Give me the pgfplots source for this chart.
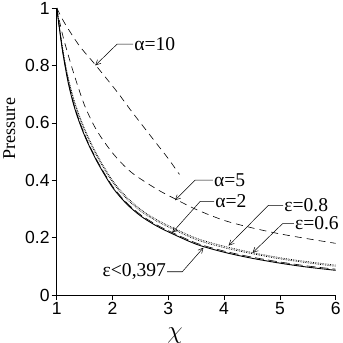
\documentclass[border=0pt]{standalone}
\usepackage{fontspec}
\setmainfont{Liberation Serif}
\setsansfont{Liberation Sans}
\usepackage{pgfplots}
\pgfplotsset{compat=1.18}
\usetikzlibrary{arrows.meta}

\begin{document}
\begin{tikzpicture}
\begin{axis}[
    scale only axis,
    width=278pt,
    height=286pt,
    xmin=1, xmax=6,
    ymin=0, ymax=1,
    axis x line*=bottom,
    axis y line*=left,
    axis line style={line width=0.6pt},
    xtick={1,2,3,4,5,6},
    ytick={0,0.2,0.4,0.6,0.8,1},
    tick align=outside,
    major tick length=5pt,
    tick style={black, line width=0.6pt},
    ticklabel style={font=\fontsize{17.5}{19}\selectfont\sffamily, inner sep=2pt},
    /pgf/number format/assume math mode=true,
    clip=false,
    every axis plot/.append style={black, smooth},
]
% epsilon < 0,397 (solid)
\addplot[line width=0.9pt] coordinates {
    (1.0,1.000) (1.1,0.855) (1.2,0.745) (1.3,0.665) (1.4,0.605) (1.5,0.555)
    (1.6,0.512) (1.75,0.455) (2.0,0.375) (2.25,0.318) (2.5,0.276) (2.75,0.245)
    (3.0,0.220) (3.5,0.177) (4.0,0.149) (4.5,0.128) (5.0,0.111) (5.5,0.097) (6.0,0.086)
};
% alpha = 2
\addplot[line width=0.6pt, dash pattern=on 9pt off 4pt] coordinates {
    (1.0,1.000) (1.1,0.859) (1.2,0.749) (1.3,0.669) (1.4,0.609) (1.5,0.559)
    (1.6,0.516) (1.75,0.459) (2.0,0.379) (2.25,0.322) (2.5,0.280) (2.75,0.249)
    (3.0,0.224) (3.5,0.181) (4.0,0.153) (4.5,0.132) (5.0,0.115) (5.5,0.101) (6.0,0.090)
};
% epsilon = 0.8
\addplot[line width=0.7pt, densely dotted] coordinates {
    (1.0,1.000) (1.1,0.865) (1.2,0.762) (1.3,0.686) (1.4,0.628) (1.5,0.579)
    (1.6,0.536) (1.75,0.479) (2.0,0.399) (2.25,0.342) (2.5,0.299) (2.75,0.267)
    (3.0,0.242) (3.5,0.198) (4.0,0.170) (4.5,0.148) (5.0,0.130) (5.5,0.116) (6.0,0.104)
};
% epsilon = 0.6
\addplot[line width=0.7pt, densely dotted] coordinates {
    (1.0,1.000) (1.1,0.862) (1.2,0.757) (1.3,0.681) (1.4,0.622) (1.5,0.573)
    (1.6,0.530) (1.75,0.473) (2.0,0.393) (2.25,0.336) (2.5,0.293) (2.75,0.262)
    (3.0,0.237) (3.5,0.193) (4.0,0.165) (4.5,0.144) (5.0,0.126) (5.5,0.112) (6.0,0.100)
};
% alpha = 5
\addplot[line width=0.6pt, dash pattern=on 7pt off 5pt] coordinates {
    (1.0,1.000) (1.1,0.910) (1.2,0.840) (1.3,0.775) (1.4,0.715) (1.5,0.660)
    (1.65,0.597) (1.8,0.548) (2.0,0.495) (2.2,0.452) (2.4,0.418) (2.8,0.368)
    (3.1,0.337) (3.5,0.298) (4.0,0.260) (4.5,0.234) (5.0,0.213) (5.5,0.196) (6.0,0.180)
};
% alpha = 10
\addplot[line width=0.6pt, dash pattern=on 7pt off 5pt] coordinates {
    (1.0,1.000) (1.14,0.948) (1.4,0.870) (1.68,0.805) (2.07,0.711) (2.31,0.648)
    (2.5,0.600) (2.8,0.525) (3.0,0.475) (3.2,0.420)
};

% annotations
\tikzset{lab/.style={font=\fontsize{19.5}{21}\selectfont, anchor=west, inner sep=1pt},
         arr/.style={line width=0.5pt, -{Straight Barb[length=5pt, width=5pt]}}}
\draw[arr] (axis cs:2.37,0.874) -- (axis cs:2.08,0.874) -- (axis cs:1.69,0.80);
\node[lab] at (axis cs:2.37,0.874) {α=10};
\draw[arr] (axis cs:3.80,0.40) -- (axis cs:3.48,0.40) -- (axis cs:3.12,0.33);
\node[lab] at (axis cs:3.80,0.40) {α=5};
\draw[arr] (axis cs:3.82,0.326) -- (axis cs:3.57,0.326) -- (axis cs:3.07,0.217);
\node[lab] at (axis cs:3.82,0.326) {α=2};
\draw[arr] (axis cs:5.06,0.312) -- (axis cs:4.79,0.312) -- (axis cs:4.08,0.172);
\node[lab] at (axis cs:5.06,0.312) {ε=0.8};
\draw[arr] (axis cs:5.25,0.249) -- (axis cs:5.05,0.249) -- (axis cs:4.51,0.147);
\node[lab] at (axis cs:5.25,0.249) {ε=0.6};
\draw[arr] (axis cs:2.98,0.081) -- (axis cs:3.25,0.081) -- (axis cs:3.63,0.165);
\node[lab, anchor=east] at (axis cs:2.98,0.081) {ε<0,397};

\node[font=\fontsize{18}{20}\selectfont, rotate=90] at (axis description cs:-0.17,0.58) {Pressure};
\node[font=\fontsize{28}{30}\selectfont, anchor=south, inner sep=0pt] at (axis description cs:0.424,-0.168) {$\chi$};
\end{axis}
\end{tikzpicture}
\end{document}
